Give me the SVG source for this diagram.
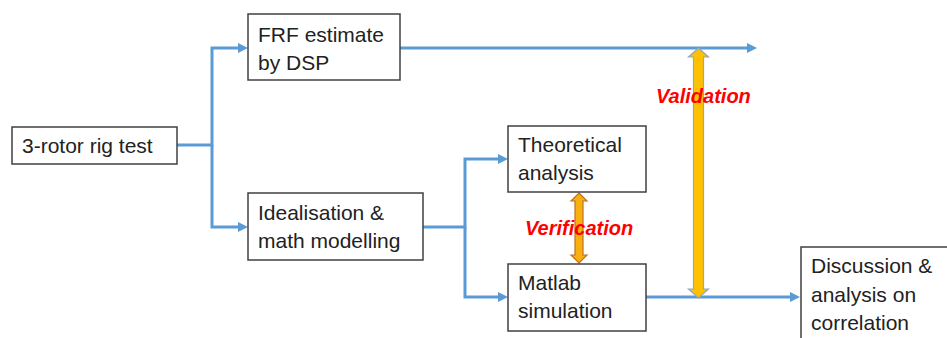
<svg xmlns="http://www.w3.org/2000/svg" width="947" height="338" viewBox="0 0 947 338">
<defs>
<style>
.box{fill:#fff;stroke:#404040;stroke-width:1.5}
.lbl{font-family:"Liberation Sans",Arial,sans-serif;font-size:21px;fill:#222}
.conn{fill:none;stroke:#5B9BD5;stroke-width:3}
.tag{font-family:"Liberation Sans",Arial,sans-serif;font-size:20px;font-weight:bold;font-style:italic;fill:#FF0000}
</style>
<marker id="ah" markerUnits="userSpaceOnUse" markerWidth="11" markerHeight="11" refX="4" refY="5" orient="auto">
<path d="M0,0 L10,5 L0,10 z" fill="#5B9BD5"/>
</marker>
</defs>
<rect width="947" height="338" fill="#fff"/>
<g id="connectors">
<path class="conn" d="M177,145 H212 V48 H242" marker-end="url(#ah)"/>
<path class="conn" d="M212,145 V227 H242" marker-end="url(#ah)"/>
<path class="conn" d="M423,227 H465 V159 H502" marker-end="url(#ah)"/>
<path class="conn" d="M465,227 V297 H502" marker-end="url(#ah)"/>
<path class="conn" d="M400,48 H751" marker-end="url(#ah)"/>
<path class="conn" d="M646,297 H794" marker-end="url(#ah)"/>
<polygon id="validation-arrow" points="698.5,48 708.5,57 703.5,57 703.5,289 708.5,289 698.5,298 688.5,289 693.5,289 693.5,57 688.5,57" fill="#FFC000" stroke="#8FA8C0" stroke-width="1.2"/>
<polygon id="verification-arrow" points="579,193 587,201 583,201 583,255 587,255 579,263 571,255 575,255 575,201 571,201" fill="#F8B010" stroke="#C07020" stroke-width="1.2"/>
</g>
<g id="rig">
<rect class="box" x="12" y="127" width="165" height="37"/>
<text class="lbl" x="22" y="153">3-rotor rig test</text>
</g>
<g id="frf">
<rect class="box" x="248" y="14" width="152" height="66"/>
<text class="lbl" x="258" y="42">FRF estimate</text>
<text class="lbl" x="258" y="70">by DSP</text>
</g>
<g id="ideal">
<rect class="box" x="248" y="193" width="175" height="67"/>
<text class="lbl" x="258" y="220">Idealisation &amp;</text>
<text class="lbl" x="258" y="248">math modelling</text>
</g>
<g id="theory">
<rect class="box" x="508" y="126" width="138" height="66"/>
<text class="lbl" x="518" y="152">Theoretical</text>
<text class="lbl" x="518" y="180">analysis</text>
</g>
<g id="matlab">
<rect class="box" x="508" y="264" width="138" height="67"/>
<text class="lbl" x="518" y="290">Matlab</text>
<text class="lbl" x="518" y="318">simulation</text>
</g>
<g id="discussion">
<rect class="box" x="801" y="247" width="160" height="110"/>
<text class="lbl" x="811" y="273">Discussion &amp;</text>
<text class="lbl" x="811" y="302">analysis on</text>
<text class="lbl" x="811" y="330">correlation</text>
</g>
<g id="labels">
<text class="tag" x="656" y="103">Validation</text>
<text class="tag" x="525" y="235">Verification</text>
</g>
</svg>
